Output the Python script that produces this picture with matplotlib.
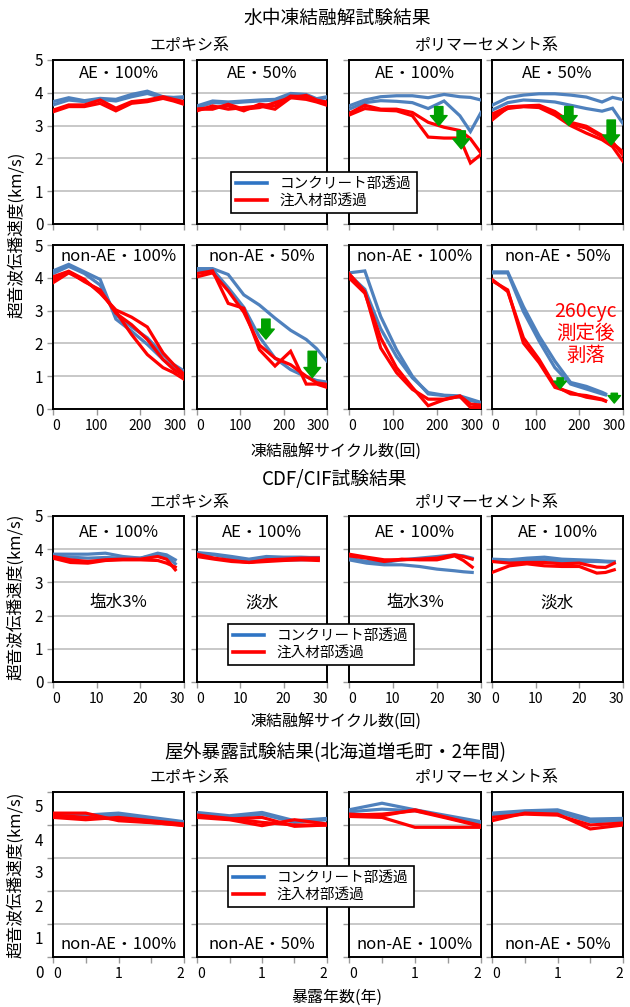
import matplotlib
matplotlib.use('Agg')
import matplotlib.pyplot as plt
from matplotlib.lines import Line2D
from matplotlib.transforms import ScaledTranslation

plt.rcParams['font.family'] = ['Noto Sans CJK JP', 'DejaVu Sans']

# ---- データ ----
cyc = [0, 36, 72, 108, 144, 180, 216, 252, 276, 300]
cyc_p4 = [0, 36, 72, 108, 144, 180, 216, 252, 260]
cdf_x = [0, 4, 8, 12, 16, 20, 24, 26, 28]
yr = [0, 0.5, 1, 1.5, 2]

# 水中凍結融解 上段 (AE)
w_ep100_b = [[3.73, 3.85, 3.76, 3.83, 3.80, 3.95, 4.05, 3.88, 3.86, 3.88],
             [3.63, 3.78, 3.73, 3.80, 3.75, 3.88, 3.98, 3.85, 3.83, 3.85]]
w_ep100_r = [[3.47, 3.63, 3.63, 3.78, 3.53, 3.73, 3.78, 3.88, 3.80, 3.73],
             [3.42, 3.58, 3.58, 3.68, 3.45, 3.68, 3.73, 3.83, 3.75, 3.65]]
w_ep50_b = [[3.60, 3.75, 3.72, 3.75, 3.78, 3.80, 3.98, 3.95, 3.82, 3.88],
            [3.55, 3.70, 3.68, 3.72, 3.75, 3.78, 3.93, 3.90, 3.80, 3.85]]
w_ep50_r = [[3.50, 3.55, 3.60, 3.45, 3.65, 3.60, 3.90, 3.88, 3.75, 3.72],
            [3.45, 3.60, 3.50, 3.55, 3.60, 3.50, 3.85, 3.80, 3.72, 3.62],
            [3.50, 3.50, 3.65, 3.50, 3.55, 3.70, 3.85, 3.92, 3.78, 3.70]]
w_pc100_b = [[3.60, 3.78, 3.88, 3.91, 3.91, 3.85, 3.95, 3.88, 3.86, 3.78],
             [3.50, 3.70, 3.76, 3.74, 3.70, 3.52, 3.75, 3.30, 2.82, 3.40]]
w_pc100_r = [[3.37, 3.62, 3.50, 3.50, 3.40, 3.10, 2.95, 2.85, 2.60, 2.16],
             [3.32, 3.52, 3.47, 3.45, 3.30, 2.65, 2.62, 2.62, 1.86, 2.12]]
w_pc50_b = [[3.62, 3.85, 3.93, 3.97, 3.97, 3.93, 3.87, 3.72, 3.86, 3.79],
            [3.47, 3.70, 3.78, 3.76, 3.72, 3.62, 3.52, 3.44, 3.53, 3.06]]
w_pc50_r = [[3.35, 3.57, 3.60, 3.62, 3.43, 3.10, 2.98, 2.70, 2.46, 2.20],
            [3.17, 3.55, 3.58, 3.55, 3.32, 3.00, 2.77, 2.57, 2.36, 1.91],
            [3.27, 3.52, 3.58, 3.58, 3.38, 3.06, 2.92, 2.66, 2.50, 2.10]]

# 水中凍結融解 下段 (non-AE)
w_ep100n_b = [[4.21, 4.41, 4.18, 3.95, 2.74, 2.37, 1.97, 1.51, 1.26, 1.06],
              [4.13, 4.35, 4.13, 3.78, 2.87, 2.50, 2.17, 1.66, 1.36, 1.16]]
w_ep100n_r = [[4.03, 4.20, 3.95, 3.53, 3.02, 2.80, 2.50, 1.71, 1.36, 1.06],
              [3.85, 4.15, 3.91, 3.58, 2.97, 2.27, 1.66, 1.26, 1.11, 0.91],
              [3.95, 4.18, 3.88, 3.63, 2.92, 2.57, 2.12, 1.51, 1.21, 1.01]]
w_ep50n_b = [[4.28, 4.28, 4.10, 3.48, 3.17, 2.77, 2.40, 2.12, 1.84, 1.46],
             [4.18, 4.25, 3.70, 3.10, 2.20, 1.55, 1.20, 0.98, 0.87, 0.82]]
w_ep50n_r = [[4.13, 4.21, 3.22, 3.07, 1.81, 1.31, 1.76, 0.76, 0.76, 0.66],
             [4.03, 4.15, 3.60, 2.95, 1.95, 1.55, 1.35, 1.00, 0.80, 0.75]]
w_pc100n_b = [[4.15, 4.21, 2.82, 1.81, 1.00, 0.46, 0.41, 0.36, 0.26, 0.19],
              [4.10, 3.65, 2.45, 1.60, 0.95, 0.50, 0.42, 0.40, 0.30, 0.20]]
w_pc100n_r = [[4.13, 3.58, 1.86, 1.11, 0.60, 0.30, 0.30, 0.38, 0.05, 0.05],
              [4.00, 3.53, 2.17, 1.26, 0.66, 0.10, 0.28, 0.40, 0.15, 0.12]]
w_pc50n_b = [[4.18, 4.18, 3.12, 2.22, 1.46, 0.81, 0.69, 0.51, 0.46],
             [4.15, 4.15, 2.97, 2.07, 1.26, 0.76, 0.61, 0.46, 0.43]]
w_pc50n_r = [[3.95, 3.58, 2.17, 1.51, 0.71, 0.46, 0.41, 0.30, 0.25],
             [3.91, 3.63, 2.01, 1.41, 0.66, 0.51, 0.36, 0.28, 0.24]]

# CDF/CIF
c_ep_salt_b = [[3.85, 3.85, 3.85, 3.88, 3.78, 3.73, 3.88, 3.83, 3.68],
               [3.80, 3.76, 3.73, 3.75, 3.73, 3.73, 3.83, 3.78, 3.56]]
c_ep_salt_r = [[3.78, 3.68, 3.63, 3.68, 3.70, 3.70, 3.78, 3.70, 3.38],
               [3.73, 3.60, 3.58, 3.66, 3.68, 3.68, 3.66, 3.58, 3.46]]
c_ep_fresh_b = [[3.90, 3.85, 3.78, 3.70, 3.78, 3.76, 3.76, 3.75, 3.75],
                [3.88, 3.83, 3.73, 3.66, 3.70, 3.68, 3.68, 3.69, 3.70]]
c_ep_fresh_r = [[3.85, 3.73, 3.66, 3.60, 3.68, 3.70, 3.73, 3.73, 3.73],
                [3.78, 3.70, 3.63, 3.60, 3.63, 3.66, 3.68, 3.67, 3.66]]
c_pc_salt_b = [[3.68, 3.58, 3.53, 3.53, 3.48, 3.40, 3.35, 3.32, 3.30],
               [3.73, 3.63, 3.60, 3.68, 3.73, 3.78, 3.83, 3.80, 3.73]]
c_pc_salt_r = [[3.85, 3.76, 3.68, 3.68, 3.70, 3.73, 3.83, 3.78, 3.70],
               [3.80, 3.73, 3.63, 3.70, 3.68, 3.68, 3.80, 3.66, 3.46]]
c_pc_fresh_b = [[3.70, 3.68, 3.73, 3.76, 3.70, 3.68, 3.66, 3.64, 3.63],
                [3.66, 3.63, 3.66, 3.68, 3.63, 3.63, 3.63, 3.62, 3.60]]
c_pc_fresh_r = [[3.63, 3.58, 3.60, 3.60, 3.56, 3.58, 3.46, 3.45, 3.58],
                [3.30, 3.50, 3.56, 3.50, 3.48, 3.48, 3.28, 3.30, 3.38]]

# 屋外暴露
o_ep100_b = [[4.33, 4.30, 4.36, 4.23, 4.10], [4.28, 4.26, 4.30, 4.19, 4.08]]
o_ep100_r = [[4.36, 4.36, 4.13, 4.07, 4.00], [4.23, 4.16, 4.23, 4.13, 4.03],
             [4.30, 4.23, 4.18, 4.08, 3.98]]
o_ep50_b = [[4.38, 4.28, 4.38, 4.13, 4.20], [4.33, 4.23, 4.33, 4.08, 4.16]]
o_ep50_r = [[4.26, 4.18, 4.23, 3.96, 4.00], [4.23, 4.16, 3.98, 4.16, 4.03],
            [4.30, 4.20, 4.08, 4.00, 4.00]]
o_pc100_b = [[4.46, 4.66, 4.46, 4.28, 4.10], [4.40, 4.48, 4.43, 4.25, 4.06]]
o_pc100_r = [[4.30, 4.33, 4.43, 4.20, 3.96], [4.26, 4.23, 3.93, 3.93, 3.93],
             [4.33, 4.28, 4.46, 4.22, 3.98]]
o_pc50_b = [[4.36, 4.43, 4.46, 4.18, 4.20], [4.30, 4.40, 4.40, 4.10, 4.13]]
o_pc50_r = [[4.13, 4.36, 4.33, 3.88, 4.00], [4.23, 4.33, 4.30, 4.00, 4.06]]

ylab = '超音波伝播速度(km/s)'
leg_labels = ['コンクリート部透過', '注入材部透過']

BLUE = '#4f81bd'
RED = '#ff0000'
GREEN = '#00a000'

W, H = 630, 1007
fig = plt.figure(figsize=(W / 100, H / 100), dpi=100)

cols = [(53, 184), (197, 327), (349, 481), (492, 623)]


def make_ax(c, y0, y1):
    x0, x1 = cols[c]
    return fig.add_axes([x0 / W, 1 - y1 / H, (x1 - x0) / W, (y1 - y0) / H])


def nudge(t, dx, dy=0):
    t.set_transform(t.get_transform() +
                    ScaledTranslation(dx / 100, dy / 100, fig.dpi_scale_trans))


def panel(ax, x, blues, reds, xmax, xticks, xlabels, c, edge=(3, -9)):
    for s in blues:
        ax.plot(x, s, color=BLUE, lw=2.3, solid_joinstyle='miter', zorder=3)
    for s in reds:
        ax.plot(x, s, color=RED, lw=2.3, solid_joinstyle='miter', zorder=3)
    ax.set_xlim(0, xmax)
    ax.set_ylim(0, 5)
    ax.set_yticks(range(6))
    ax.set_xticks(xticks)
    ax.set_xticklabels(xlabels)
    ax.yaxis.grid(True, color='#c4c4c4', lw=1.3)
    ax.set_axisbelow(True)
    for sp in ax.spines.values():
        sp.set_color('black')
        sp.set_linewidth(1.4)
    ax.tick_params(direction='out', length=4, width=1, color='#9a9a9a', pad=3)
    ax.tick_params(axis='y', labelsize=11)
    ax.tick_params(axis='x', labelsize=10)
    if c != 0:
        ax.tick_params(labelleft=False)
    # 端のラベルは内側へ寄せる
    labs = ax.get_xticklabels()
    nudge(labs[0], edge[0])
    nudge(labs[-1], edge[1])


def arrow(ax, x, ytop, ytip, ms=12):
    ax.annotate('', xy=(x, ytip), xytext=(x, ytop),
                arrowprops=dict(arrowstyle='simple,head_length=0.6,head_width=1.0,tail_width=0.5',
                                color=GREEN, mutation_scale=ms,
                                shrinkA=0, shrinkB=0), zorder=5)


def legend(x, y):
    handles = [Line2D([], [], color='#2f74c4', lw=2.6),
               Line2D([], [], color=RED, lw=2.6)]
    leg = fig.legend(handles, leg_labels, loc='upper left',
                     bbox_to_anchor=(x / W, 1 - y / H), frameon=True,
                     fancybox=False, edgecolor='black', framealpha=1,
                     fontsize=10.5, handlelength=2.1, handletextpad=0.9,
                     borderpad=0.35, labelspacing=0.2, borderaxespad=0)
    leg.get_frame().set_linewidth(1.2)


def ftext(x, y, s, size, **kw):
    fig.text(x / W, 1 - y / H, s, fontsize=size, ha='center', va='center', **kw)


# ---- 水中凍結融解試験結果 ----
ftext(337, 18, '水中凍結融解試験結果', 13.5)
ftext(190, 45, 'エポキシ系', 11.5)
ftext(486, 45, 'ポリマーセメント系', 11.5)

row1 = [(w_ep100_b, w_ep100_r, 'AE・100%'), (w_ep50_b, w_ep50_r, 'AE・50%'),
        (w_pc100_b, w_pc100_r, 'AE・100%'), (w_pc50_b, w_pc50_r, 'AE・50%')]
row1_arrows = {2: [(204, 3.58, 3.0), (255, 2.84, 2.29)],
               3: [(176, 3.58, 3.0), (273, 3.17, 2.41)]}
for c, (b, r, lab) in enumerate(row1):
    ax = make_ax(c, 60, 224)
    panel(ax, cyc, b, r, 300, [0, 100, 200, 300], ['', '', '', ''], c)
    ax.text(0.5, 0.92, lab, transform=ax.transAxes, ha='center', va='center',
            fontsize=12, zorder=6)
    for a in row1_arrows.get(c, []):
        arrow(ax, *a)

row2 = [(cyc, w_ep100n_b, w_ep100n_r, 'non-AE・100%'),
        (cyc, w_ep50n_b, w_ep50n_r, 'non-AE・50%'),
        (cyc, w_pc100n_b, w_pc100n_r, 'non-AE・100%'),
        (cyc_p4, w_pc50n_b, w_pc50n_r, 'non-AE・50%')]
for c, (x, b, r, lab) in enumerate(row2):
    ax = make_ax(c, 245, 409)
    panel(ax, x, b, r, 300, [0, 100, 200, 300], ['0', '100', '200', '300'], c)
    ax.text(0.5, 0.927, lab, transform=ax.transAxes, ha='center', va='center',
            fontsize=12, zorder=6)
    if c == 1:
        arrow(ax, 159, 2.74, 2.13)
        arrow(ax, 266, 1.76, 0.96)
    if c == 3:
        arrow(ax, 156, 0.95, 0.62, ms=9)
        arrow(ax, 280, 0.48, 0.18, ms=9)
        ax.text(215, 2.3, '260cyc\n測定後\n剥落', color=RED, fontsize=14,
                ha='center', va='center', linespacing=1.05, zorder=6)

legend(231, 172)
fig.text(17 / W, 1 - 235 / H, ylab, rotation=90, fontsize=12, ha='center', va='center')
ftext(336, 452, '凍結融解サイクル数(回)', 11.5)

# ---- CDF/CIF試験結果 ----
ftext(335, 480, 'CDF/CIF試験結果', 13.5)
ftext(190, 502, 'エポキシ系', 11.5)
ftext(486, 502, 'ポリマーセメント系', 11.5)
row3 = [(c_ep_salt_b, c_ep_salt_r, '塩水3%'), (c_ep_fresh_b, c_ep_fresh_r, '淡水'),
        (c_pc_salt_b, c_pc_salt_r, '塩水3%'), (c_pc_fresh_b, c_pc_fresh_r, '淡水')]
for c, (b, r, lab) in enumerate(row3):
    ax = make_ax(c, 516, 682)
    panel(ax, cdf_x, b, r, 30, [0, 10, 20, 30], ['0', '10', '20', '30'], c,
          edge=(3, -7))
    ax.text(0.5, 0.9, 'AE・100%', transform=ax.transAxes, ha='center',
            va='center', fontsize=12, zorder=6)
    ax.text(0.5, 0.476, lab, transform=ax.transAxes, ha='center',
            va='center', fontsize=12, zorder=6)
legend(228, 624)
fig.text(16 / W, 1 - 597 / H, ylab, rotation=90, fontsize=12, ha='center', va='center')
ftext(336, 722, '凍結融解サイクル数(回)', 11.5)

# ---- 屋外暴露試験結果 ----
ftext(335, 753, '屋外暴露試験結果(北海道増毛町・2年間)', 13.5)
ftext(190, 777, 'エポキシ系', 11.5)
ftext(486, 777, 'ポリマーセメント系', 11.5)
row4 = [(o_ep100_b, o_ep100_r, 'non-AE・100%'), (o_ep50_b, o_ep50_r, 'non-AE・50%'),
        (o_pc100_b, o_pc100_r, 'non-AE・100%'), (o_pc50_b, o_pc50_r, 'non-AE・50%')]
for c, (b, r, lab) in enumerate(row4):
    ax = make_ax(c, 792, 957)
    panel(ax, yr, b, r, 2, yr, ['0', '', '1', '', '2'], c, edge=(4, -4))
    ax.text(0.5, 0.075, lab, transform=ax.transAxes, ha='center',
            va='center', fontsize=12, zorder=6)
    if c == 0:
        for t in ax.get_yticklabels():
            nudge(t, 0, -14)
legend(228, 866)
fig.text(16 / W, 1 - 875 / H, ylab, rotation=90, fontsize=12, ha='center', va='center')
ftext(337, 997, '暴露年数(年)', 11.5)

fig.savefig('out.png', dpi=100)
